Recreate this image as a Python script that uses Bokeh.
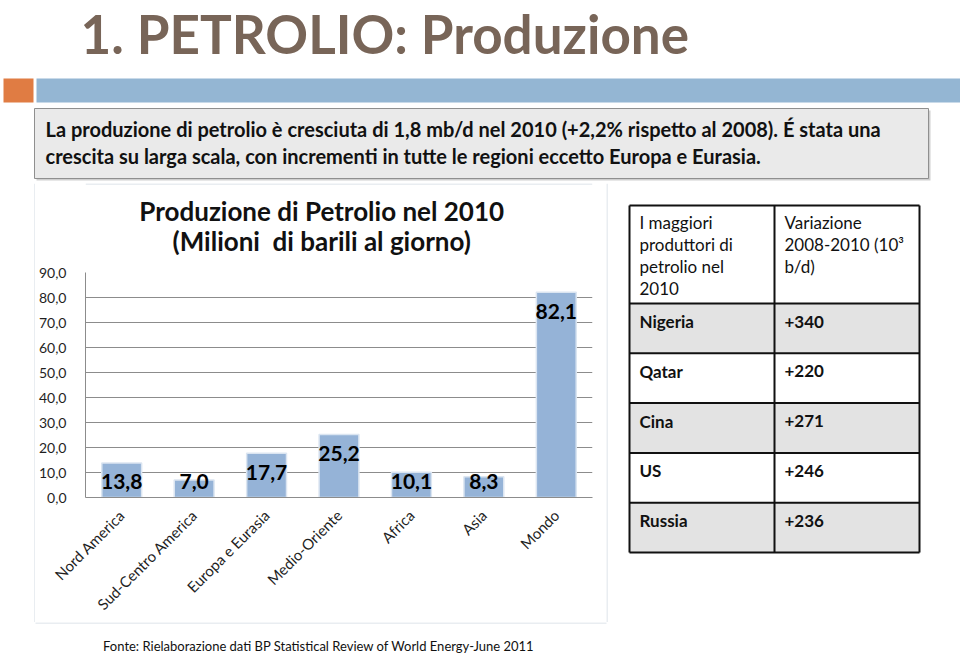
from math import pi
from bokeh.plotting import figure
from bokeh.layouts import column, row
from bokeh.models import Range1d, FactorRange, FixedTicker, ColumnDataSource, CustomJSTickFormatter
from bokeh.core.properties import value
from bokeh.embed import file_html
from bokeh.resources import INLINE

# ---------------- data ----------------
slide_title = "1. PETROLIO: Produzione"
intro_lines = [
    "La produzione di petrolio è cresciuta di 1,8 mb/d nel 2010 (+2,2% rispetto al 2008). É stata una",
    "crescita su larga scala, con incrementi in tutte le regioni eccetto Europa e Eurasia.",
]
chart_title = ["Produzione di Petrolio nel 2010", "(Milioni\u00a0 di barili al giorno)"]
regions = ["Nord America", "Sud-Centro America", "Europa e Eurasia", "Medio-Oriente",
           "Africa", "Asia", "Mondo"]
production = [13.8, 7.0, 17.7, 25.2, 10.1, 8.3, 82.1]
y_ticks = [0, 10, 20, 30, 40, 50, 60, 70, 80, 90]
header_left = ["I maggiori", "produttori di", "petrolio nel", "2010"]
header_right = ["Variazione", "2008-2010 (10³", "b/d)"]
producers = ["Nigeria", "Qatar", "Cina", "US", "Russia"]
variation = ["+340", "+220", "+271", "+246", "+236"]
source_note = "Fonte:  Rielaborazione dati BP Statistical Review of World Energy-June 2011"

FONT_NAME = "Lato"
FONT = value(FONT_NAME)
BOX = "#d3dbe3"


def pix_fig(w, h):
    f = figure(width=w, height=h, x_range=Range1d(0, w), y_range=Range1d(h, 0),
               x_axis_location=None, y_axis_location=None,
               output_backend="svg", toolbar_location=None, min_border=0)
    f.grid.visible = False
    f.outline_line_color = None
    f.background_fill_color = "white"
    f.border_fill_color = "white"
    return f


# ---------------- top: slide title, banner, intro box ----------------
top = pix_fig(960, 183)
top.text(x=[80], y=[33], text=[slide_title], text_font=FONT,
         text_font_size="53px", text_font_style="bold", text_color="#786558",
         text_baseline="middle")
top.quad(left=[3], right=[33], top=[78], bottom=[102], fill_color="#e07c43", line_color=None)
top.quad(left=[36], right=[960], top=[78], bottom=[102], fill_color="#94b6d3", line_color=None)
top.quad(left=[36], right=[930], top=[110], bottom=[180], fill_color="#cfcfcf", line_color=None)
top.quad(left=[34], right=[928], top=[108], bottom=[178], fill_color="#eaeaea",
         line_color="#8f8f8f", line_width=1)
top.text(x=[45, 45], y=[128, 155], text=intro_lines, text_font=FONT, text_font_size="20px",
         text_font_style="bold", text_color="#111111", text_baseline="middle")

# ---------------- chart title ----------------
ctitle = pix_fig(571, 72)
ctitle.segment(x0=[0], y0=[0.5], x1=[571], y1=[0.5], line_color=BOX, line_width=1)
ctitle.text(x=[266, 266], y=[27, 57], text=chart_title, text_font=FONT, text_font_size="26px",
            text_font_style="bold", text_color="#111111", text_align="center",
            text_baseline="middle")

# ---------------- left spacer (box left border) ----------------
lsp = pix_fig(35, 439)
lsp.segment(x0=[34.5], y0=[0], x1=[34.5], y1=[439], line_color=BOX, line_width=1)

# ---------------- bar chart ----------------
labels = [f"{v:.1f}".replace(".", ",") for v in production]
label_y = [max(v - 7.5, 6.3) for v in production]
src = ColumnDataSource(dict(region=regions, production=production, label=labels, label_y=label_y))

chart = figure(width=571, height=367, x_range=FactorRange(factors=regions), y_range=Range1d(0, 90),
               output_backend="svg", toolbar_location=None,
               min_border_left=50, min_border_right=14, min_border_top=17, min_border_bottom=121)
chart.outline_line_color = None
chart.background_fill_color = "white"
chart.border_fill_color = "white"
chart.xgrid.visible = False
chart.yaxis.ticker = FixedTicker(ticks=y_ticks)
chart.yaxis.formatter = CustomJSTickFormatter(code="return tick.toFixed(1).replace('.', ',')")
chart.ygrid.grid_line_color = "#8c8c8c"
chart.ygrid.grid_line_width = 1
for ax in (chart.xaxis, chart.yaxis):
    ax.axis_line_color = "#8c8c8c"
    ax.major_tick_line_color = None
    ax.minor_tick_line_color = None
    ax.major_label_text_font = FONT_NAME
    ax.major_label_text_color = "#1f1f1f"
chart.yaxis.major_label_text_font_size = "14px"
chart.xaxis.major_label_text_font_size = "15px"
chart.yaxis.major_label_standoff = 13
chart.xaxis.major_label_standoff = 9
chart.xaxis.major_label_orientation = pi / 4

chart.vbar(x="region", top="production", width=0.55, source=src,
           fill_color="#95b3d7", line_color="#dbe5f1", line_width=1.5)
chart.text(x="region", y="label_y", text="label", source=src, text_font=FONT,
           text_font_size="21px", text_font_style="bold", text_color="#000000",
           text_align="center", text_baseline="middle")

# ---------------- table ----------------
table = pix_fig(354, 439)
table.segment(x0=[0.5], y0=[0], x1=[0.5], y1=[439], line_color=BOX, line_width=1)
x0, x1, x2 = 23, 168, 313
head_top, head_bot, row_h = 22, 120, 49.8
n = len(producers)
tops = [head_bot + i * row_h for i in range(n)]
bots = [t + row_h for t in tops]
fills = ["#e3e3e3" if i % 2 == 0 else "white" for i in range(n)]
table.quad(left=[x0] * n, right=[x2] * n, top=tops, bottom=bots, fill_color=fills, line_color=None)
h_lines = [head_top, head_bot] + bots
table.segment(x0=[x0] * len(h_lines), y0=h_lines, x1=[x2] * len(h_lines), y1=h_lines,
              line_color="#111111", line_width=2)
table.segment(x0=[x0, x1, x2], y0=[head_top] * 3, x1=[x0, x1, x2], y1=[bots[-1]] * 3,
              line_color="#111111", line_width=2)
table.text(x=[x0 + 10] * len(header_left), y=[head_top + 17 + 22 * i for i in range(len(header_left))],
           text=header_left, text_font=FONT, text_font_size="17px", text_color="#111111",
           text_baseline="middle")
table.text(x=[x1 + 10] * len(header_right), y=[head_top + 17 + 22 * i for i in range(len(header_right))],
           text=header_right, text_font=FONT, text_font_size="17px", text_color="#111111",
           text_baseline="middle")
table.text(x=[x0 + 10] * n, y=[t + 18 for t in tops], text=producers, text_font=FONT,
           text_font_size="17px", text_font_style="bold", text_color="#111111", text_baseline="middle")
table.text(x=[x1 + 10] * n, y=[t + 18 for t in tops], text=variation, text_font=FONT,
           text_font_size="17px", text_font_style="bold", text_color="#111111", text_baseline="middle")

# ---------------- bottom: source ----------------
bottom = pix_fig(960, 33)
bottom.segment(x0=[35], y0=[0.5], x1=[606], y1=[0.5], line_color=BOX, line_width=1)
bottom.text(x=[320], y=[23], text=[source_note], text_font=FONT, text_font_size="13px",
            text_color="#111111", text_align="center", text_baseline="middle")

p = column(top, row(lsp, column(ctitle, chart, spacing=0), table, spacing=0), bottom, spacing=0)

open("out.html", "w").write(file_html(p, INLINE))
